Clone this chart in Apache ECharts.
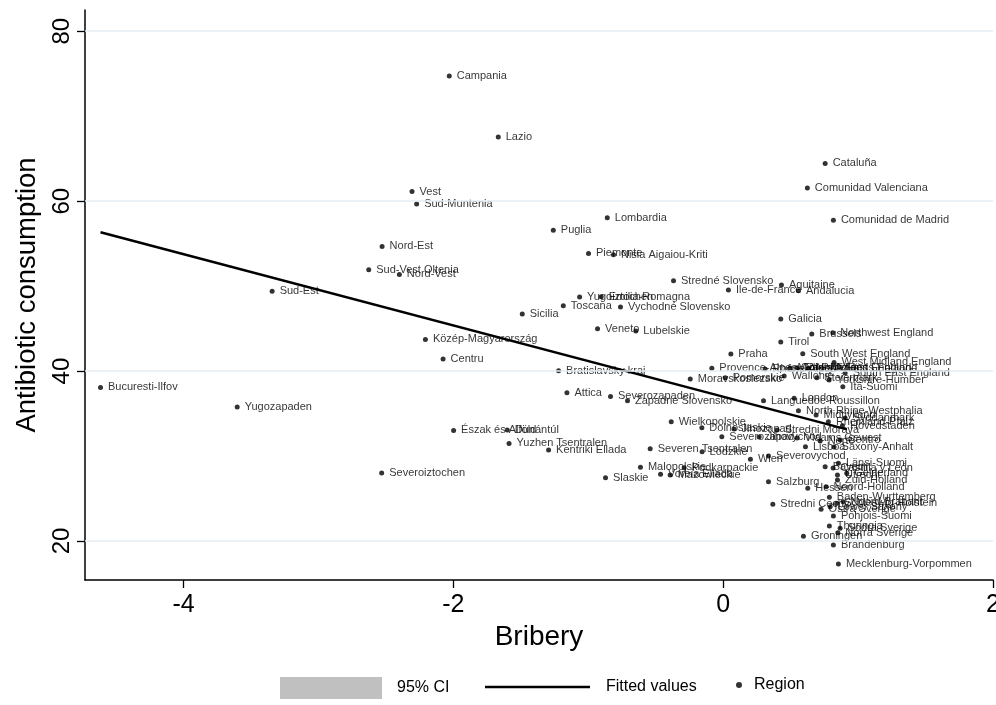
<!DOCTYPE html>
<html><head><meta charset="utf-8">
<script src="https://cdn.jsdelivr.net/npm/echarts@6/dist/echarts.min.js"></script>
<style>html,body{margin:0;padding:0;background:#fff}#c{width:996px;height:705px}</style>
</head><body><div id="c"></div>
<script>
const regionNames = [
 "Campania","Lazio","Vest","Sud-Muntenia","Nord-Est","Sud-Vest Oltenia","Nord-Vest","Sud-Est",
 "Közép-Magyarország","Centru","Bucuresti-Ilfov","Yugozapaden","Észak és Alföld","Dunántúl","Severoiztochen",
 "Lombardia","Puglia","Piemonte","Nisia Aigaiou-Kriti","Stredné Slovensko","Ile-de-France","Yugoiztochen",
 "Emilia-Romagna","Toscana","Vychodné Slovensko","Sicilia","Veneto","Lubelskie","Praha",
 "Provence-Alpes-Côte d'Azur","Bratislavsky kraj","Moravskoslezsko","Pomorskie","Attica","Severozapaden",
 "Zapadne Slovensko","Languedoc-Roussillon","Wielkopolskie","Dolnoslaskie","Yuzhen Tsentralen","Kentriki Ellada",
 "Severen Tsentralen","Lodzkie","Severozapad","Wien","Malopolskie","Slaskie","Podkarpackie","Voreia Ellada",
 "Mazowieckie","Cataluña","Comunidad Valenciana","Comunidad de Madrid","Aquitaine","Andalucia","Galicia","Tirol",
 "Brussels","Northwest England","South West England","West Midland England","Itä-Suomi","Rhône-Alpes",
 "Midi-Pyrénées","East Midlands England","North East England","South East England","Wallonie","Steiermark",
 "Yorkshire-Humber","London","North Rhine-Westphalia","Midtjylland","Rheinland-Pfalz","Syddanmark","Hovedstaden",
 "Jihozapad","Stredni Morava","Jihovychod","Vlaams Gewest","Norte","Centro","Lisboa","Saxony-Anhalt",
 "Severovychod","Länsi-Suomi","Bayern","Castilla y León","Gelderland","Utrecht","Zuid-Holland","Salzburg",
 "Hessen","Noord-Holland","Baden-Wurttemberg","Noord-Brabant","Schleswig-Holstein","Stredni Cechy",
 "Lower Saxony","Östra Sverige","Pohjois-Suomi","Thuringia","Södra Sverige","Norra Sverige","Groningen",
 "Brandenburg","Mecklenburg-Vorpommen"
];
const briberyValues = [
 -2.030,-1.667,-2.306,-2.272,-2.528,-2.627,-2.400,-3.343,
 -2.207,-2.076,-4.615,-3.602,-1.998,-1.600,-2.531,
 -0.859,-1.259,-0.998,-0.813,-0.368,0.039,-1.064,
 -0.904,-1.185,-0.761,-1.489,-0.931,-0.647,0.057,
 -0.084,-1.220,-0.244,0.015,-1.158,-0.835,
 -0.709,0.299,-0.385,-0.158,-1.587,-1.294,
 -0.541,-0.156,-0.010,0.202,-0.613,-0.872,-0.289,-0.464,
 -0.393,0.756,0.624,0.817,0.432,0.558,0.427,0.427,
 0.657,0.813,0.590,0.822,0.887,0.311,
 0.496,0.550,0.632,0.904,0.452,0.694,
 0.785,0.526,0.558,0.689,0.780,0.904,0.884,
 0.081,0.400,0.267,0.548,0.719,0.867,0.610,0.822,
 0.336,0.854,0.756,0.815,0.916,0.847,0.847,0.336,
 0.627,0.763,0.787,0.889,0.842,0.368,
 0.793,0.726,0.817,0.787,0.867,0.850,0.595,
 0.817,0.854
];
const antibioticValues = [
 74.74,67.56,61.14,59.68,54.67,51.92,51.38,49.41,
 43.73,41.41,38.08,35.76,33.02,33.06,28.00,
 58.04,56.59,53.85,53.68,50.62,49.53,48.71,
 48.74,47.68,47.53,46.71,44.98,44.71,42.00,
 40.32,40.04,39.06,39.21,37.45,37.02,
 36.51,36.51,34.04,33.33,31.49,30.71,
 30.86,30.51,32.27,29.61,28.67,27.45,28.62,27.85,
 27.76,64.44,61.56,57.76,50.12,49.45,46.12,43.41,
 44.35,44.51,42.04,41.02,38.15,40.24,
 40.32,40.39,40.32,39.76,39.41,39.21,
 38.94,36.79,35.33,34.82,34.04,34.47,33.56,
 33.18,33.06,32.24,32.12,31.76,31.88,31.09,31.06,
 30.00,29.14,28.74,28.59,27.96,27.76,27.18,26.98,
 26.20,26.39,25.14,24.62,24.44,24.32,
 24.04,23.73,22.94,21.76,21.49,20.98,20.55,
 19.53,17.29
];
const fitBribery = [-4.615, 0.917];
const fitAntibiotic = [56.35, 33.14];
const xTickValues = [-4, -2, 0, 2];
const yTickValues = [20, 40, 60, 80];

const FONT = "'Liberation Sans', Arial, Helvetica, sans-serif";
const chart = echarts.init(document.getElementById('c'), null, {renderer: 'canvas'});

const points = regionNames.map((n, i) => ({name: n, value: [briberyValues[i], antibioticValues[i]]}));
const fitLine = fitBribery.map((x, i) => [x, fitAntibiotic[i]]);

chart.setOption({
  animation: false,
  backgroundColor: '#fff',
  textStyle: {fontFamily: FONT},
  grid: {left: 85, right: 3, top: 10, bottom: 125, containLabel: false, outerBoundsMode: 'none'},
  xAxis: {
    type: 'value', min: -4.73, max: 2.0,
    name: 'Bribery', nameLocation: 'middle', nameGap: 42,
    nameTextStyle: {fontSize: 28, color: '#000', fontFamily: FONT},
    axisLine: {show: true, onZero: false, lineStyle: {color: '#000', width: 1.5}},
    axisTick: {show: true, length: 8, lineStyle: {color: '#000', width: 1.3}, customValues: xTickValues},
    axisLabel: {fontSize: 25, color: '#000', margin: 13, customValues: xTickValues, fontFamily: FONT},
    splitLine: {show: false}
  },
  yAxis: {
    type: 'value', min: 15.41, max: 82.5,
    name: 'Antibiotic consumption', nameLocation: 'middle', nameGap: 44, nameRotate: 90,
    nameTextStyle: {fontSize: 27.5, color: '#000', fontFamily: FONT},
    axisLine: {show: true, onZero: false, lineStyle: {color: '#000', width: 1.5}},
    axisTick: {show: true, length: 8, lineStyle: {color: '#000', width: 1.3}, customValues: yTickValues},
    axisLabel: {fontSize: 24, color: '#000', margin: 11, rotate: 90, customValues: yTickValues, fontFamily: FONT},
    splitLine: {show: false}
  },
  legend: [
    {data: [{name: '95% CI', icon: 'rect'}], left: 280, top: 677, itemWidth: 102, itemHeight: 22, padding: 0,
     textStyle: {fontSize: 16, color: '#000', fontFamily: FONT, padding: [0, 0, 0, 10]}},
    {data: [{name: 'Fitted values', icon: 'rect', itemStyle: {color: '#000'}}], left: 485, top: 679, itemWidth: 105, itemHeight: 2.5, padding: 0,
     textStyle: {fontSize: 16, color: '#000', fontFamily: FONT, padding: [0, 0, 0, 11]}},
    {data: [{name: 'Region', icon: 'circle'}], left: 736, top: 677, itemWidth: 6, itemHeight: 22, padding: 0,
     textStyle: {fontSize: 16, color: '#000', fontFamily: FONT, padding: [0, 0, 0, 7]}}
  ],
  series: [
    {name: '95% CI', type: 'line', data: [], color: '#c0c0c0', itemStyle: {color: '#c0c0c0'}, areaStyle: {color: '#c0c0c0'}, symbol: 'none'},
    {name: 'Fitted values', type: 'line', data: fitLine, symbol: 'none', color: '#000',
     lineStyle: {color: '#000', width: 2.5}, z: 2,
     markLine: {silent: true, symbol: 'none', label: {show: false},
       lineStyle: {color: '#e4edf0', width: 1.5, type: 'solid'},
       data: yTickValues.map(v => ({yAxis: v}))}},
    {name: 'Region', type: 'scatter', data: points, symbol: 'circle', symbolSize: 5, z: 3,
     itemStyle: {color: '#000'}, color: '#000',
     label: {show: true, position: 'right', distance: 5, formatter: '{b}', fontSize: 11, color: '#000', fontFamily: FONT},
     emphasis: {disabled: true}}
  ]
});
</script></body></html>
